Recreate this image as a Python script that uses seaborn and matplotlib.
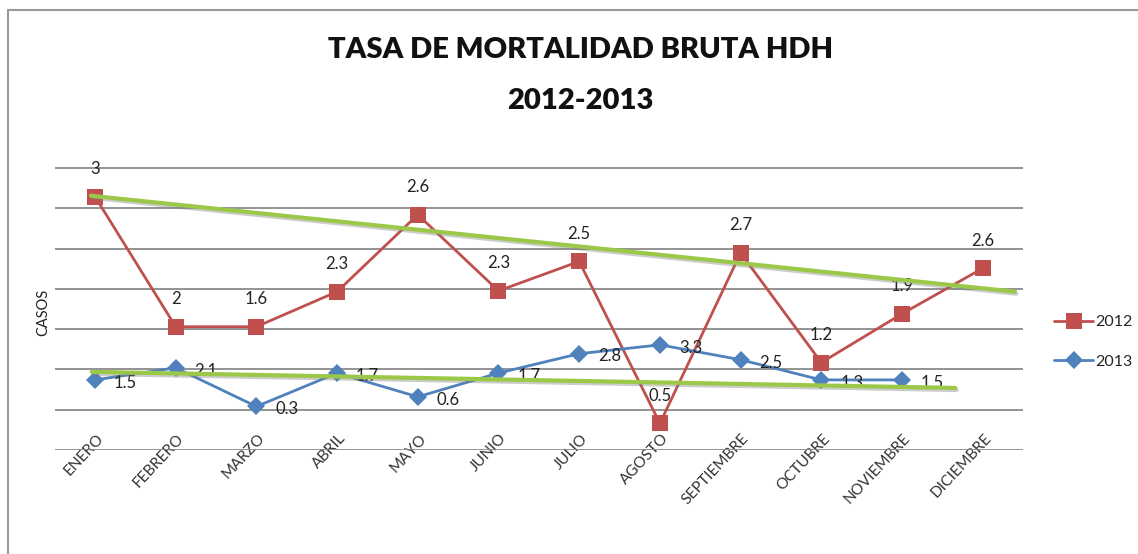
import numpy as np
import pandas as pd
import seaborn as sns
import matplotlib.pyplot as plt
import matplotlib.patheffects as pe
from matplotlib.transforms import ScaledTranslation

# datos
meses = ["ENERO", "FEBRERO", "MARZO", "ABRIL", "MAYO", "JUNIO", "JULIO",
         "AGOSTO", "SEPTIEMBRE", "OCTUBRE", "NOVIEMBRE", "DICIEMBRE"]

# posicion trazada (en unidades de linea de cuadricula)
serie_2012 = [6.29, 3.06, 3.06, 3.93, 5.84, 3.95, 4.68, 0.66, 4.89, 2.17, 3.38, 4.51]
serie_2013 = [1.74, 2.04, 1.08, 1.91, 1.32, 1.91, 2.39, 2.61, 2.24, 1.74, 1.74]

# etiquetas de datos tal como aparecen
etiquetas_2012 = [3, 2, 1.6, 2.3, 2.6, 2.3, 2.5, 0.5, 2.7, 1.2, 1.9, 2.6]
etiquetas_2013 = [1.5, 2.1, 0.3, 1.7, 0.6, 1.7, 2.8, 3.3, 2.5, 1.3, 1.5]

# lineas de tendencia (dibujadas a mano en el original)
tend_2012_x = [-0.05, 11.4]
tend_2012_y = [6.31, 3.93]
tend_2013_x = [-0.04, 10.66]
tend_2013_y = [1.94, 1.54]

ROJO = "#c0504d"
AZUL = "#4f81bd"
VERDE = "#9cc84a"

sns.set_style("white")
plt.rcParams["font.family"] = ["Lato", "DejaVu Sans"]

fig = plt.figure(figsize=(11.38, 5.54), dpi=100)
ax = fig.add_axes([0.048, 0.1877, 0.851, 0.5455])

df12 = pd.DataFrame({"x": np.arange(len(serie_2012)), "y": serie_2012})
df13 = pd.DataFrame({"x": np.arange(len(serie_2013)), "y": serie_2013})

sns.lineplot(data=df12, x="x", y="y", ax=ax, color=ROJO, lw=2.0, marker="s",
             markersize=11, markeredgewidth=0, label="2012", zorder=3)
sns.lineplot(data=df13, x="x", y="y", ax=ax, color=AZUL, lw=2.0, marker="D",
             markersize=9, markeredgewidth=0, label="2013", zorder=3)

sombra = [pe.SimpleLineShadow(offset=(1, -1.5), shadow_color="gray", alpha=0.4), pe.Normal()]
ax.plot(tend_2012_x, tend_2012_y, color=VERDE, lw=3, zorder=5, path_effects=sombra)
ax.plot(tend_2013_x, tend_2013_y, color=VERDE, lw=3, zorder=5, path_effects=sombra)

for i, (v, t) in enumerate(zip(serie_2012, etiquetas_2012)):
    ax.annotate(f"{t:g}", (i, v), xytext=(0, 20), textcoords="offset points",
                ha="center", va="center", fontsize=12, color="#222222", zorder=4)
for i, (v, t) in enumerate(zip(serie_2013, etiquetas_2013)):
    ax.annotate(f"{t:g}", (i, v), xytext=(22, -2), textcoords="offset points",
                ha="center", va="center", fontsize=12, color="#222222", zorder=4)

ax.set_xlim(-0.5, 11.5)
ax.set_ylim(0, 7.5)
ax.set_yticks(range(0, 8))
ax.set_yticklabels([])
ax.grid(axis="y", color="#8a8a8a", lw=1.3)
ax.grid(axis="x", visible=False)
for s in ax.spines.values():
    s.set_visible(False)
ax.set_xlabel("")
ax.set_ylabel("")
ax.tick_params(axis="both", length=0)
ax.tick_params(axis="x", pad=-10)
ax.set_xticks(np.arange(len(meses)))
ax.set_xticklabels(meses, rotation=47, ha="right", va="center",
                   rotation_mode="anchor", fontsize=11, color="#333333")
for lab in ax.get_xticklabels():
    lab.set_transform(lab.get_transform() + ScaledTranslation(0.06, 0, fig.dpi_scale_trans))

ax.legend_.remove()
h, l = ax.get_legend_handles_labels()
fig.legend(h[:2], l[:2], loc="center left", bbox_to_anchor=(1040 / 1138, 1 - 342 / 554),
           frameon=False, fontsize=11.5, handlelength=2.4, labelspacing=1.6,
           handletextpad=0.15)

fig.text(43 / 1138, 1 - 312 / 554, "CASOS", rotation=90, ha="center", va="center",
         fontsize=10.5, color="#222222")
fig.text(580 / 1138, 1 - 50 / 554, "TASA DE MORTALIDAD BRUTA HDH", ha="center",
         va="center", fontsize=21, fontweight="heavy", color="#111111")
fig.text(580 / 1138, 1 - 101 / 554, "2012-2013", ha="center", va="center",
         fontsize=21, fontweight="heavy", color="#111111")

# marco del grafico
fig.add_artist(plt.Line2D([8 / 1138, 8 / 1138], [0, 1 - 10 / 554], color="#999999",
                          lw=1.5, transform=fig.transFigure))
fig.add_artist(plt.Line2D([8 / 1138, 1], [1 - 10 / 554, 1 - 10 / 554], color="#999999",
                          lw=1.5, transform=fig.transFigure))

fig.savefig("out.png", dpi=100)
